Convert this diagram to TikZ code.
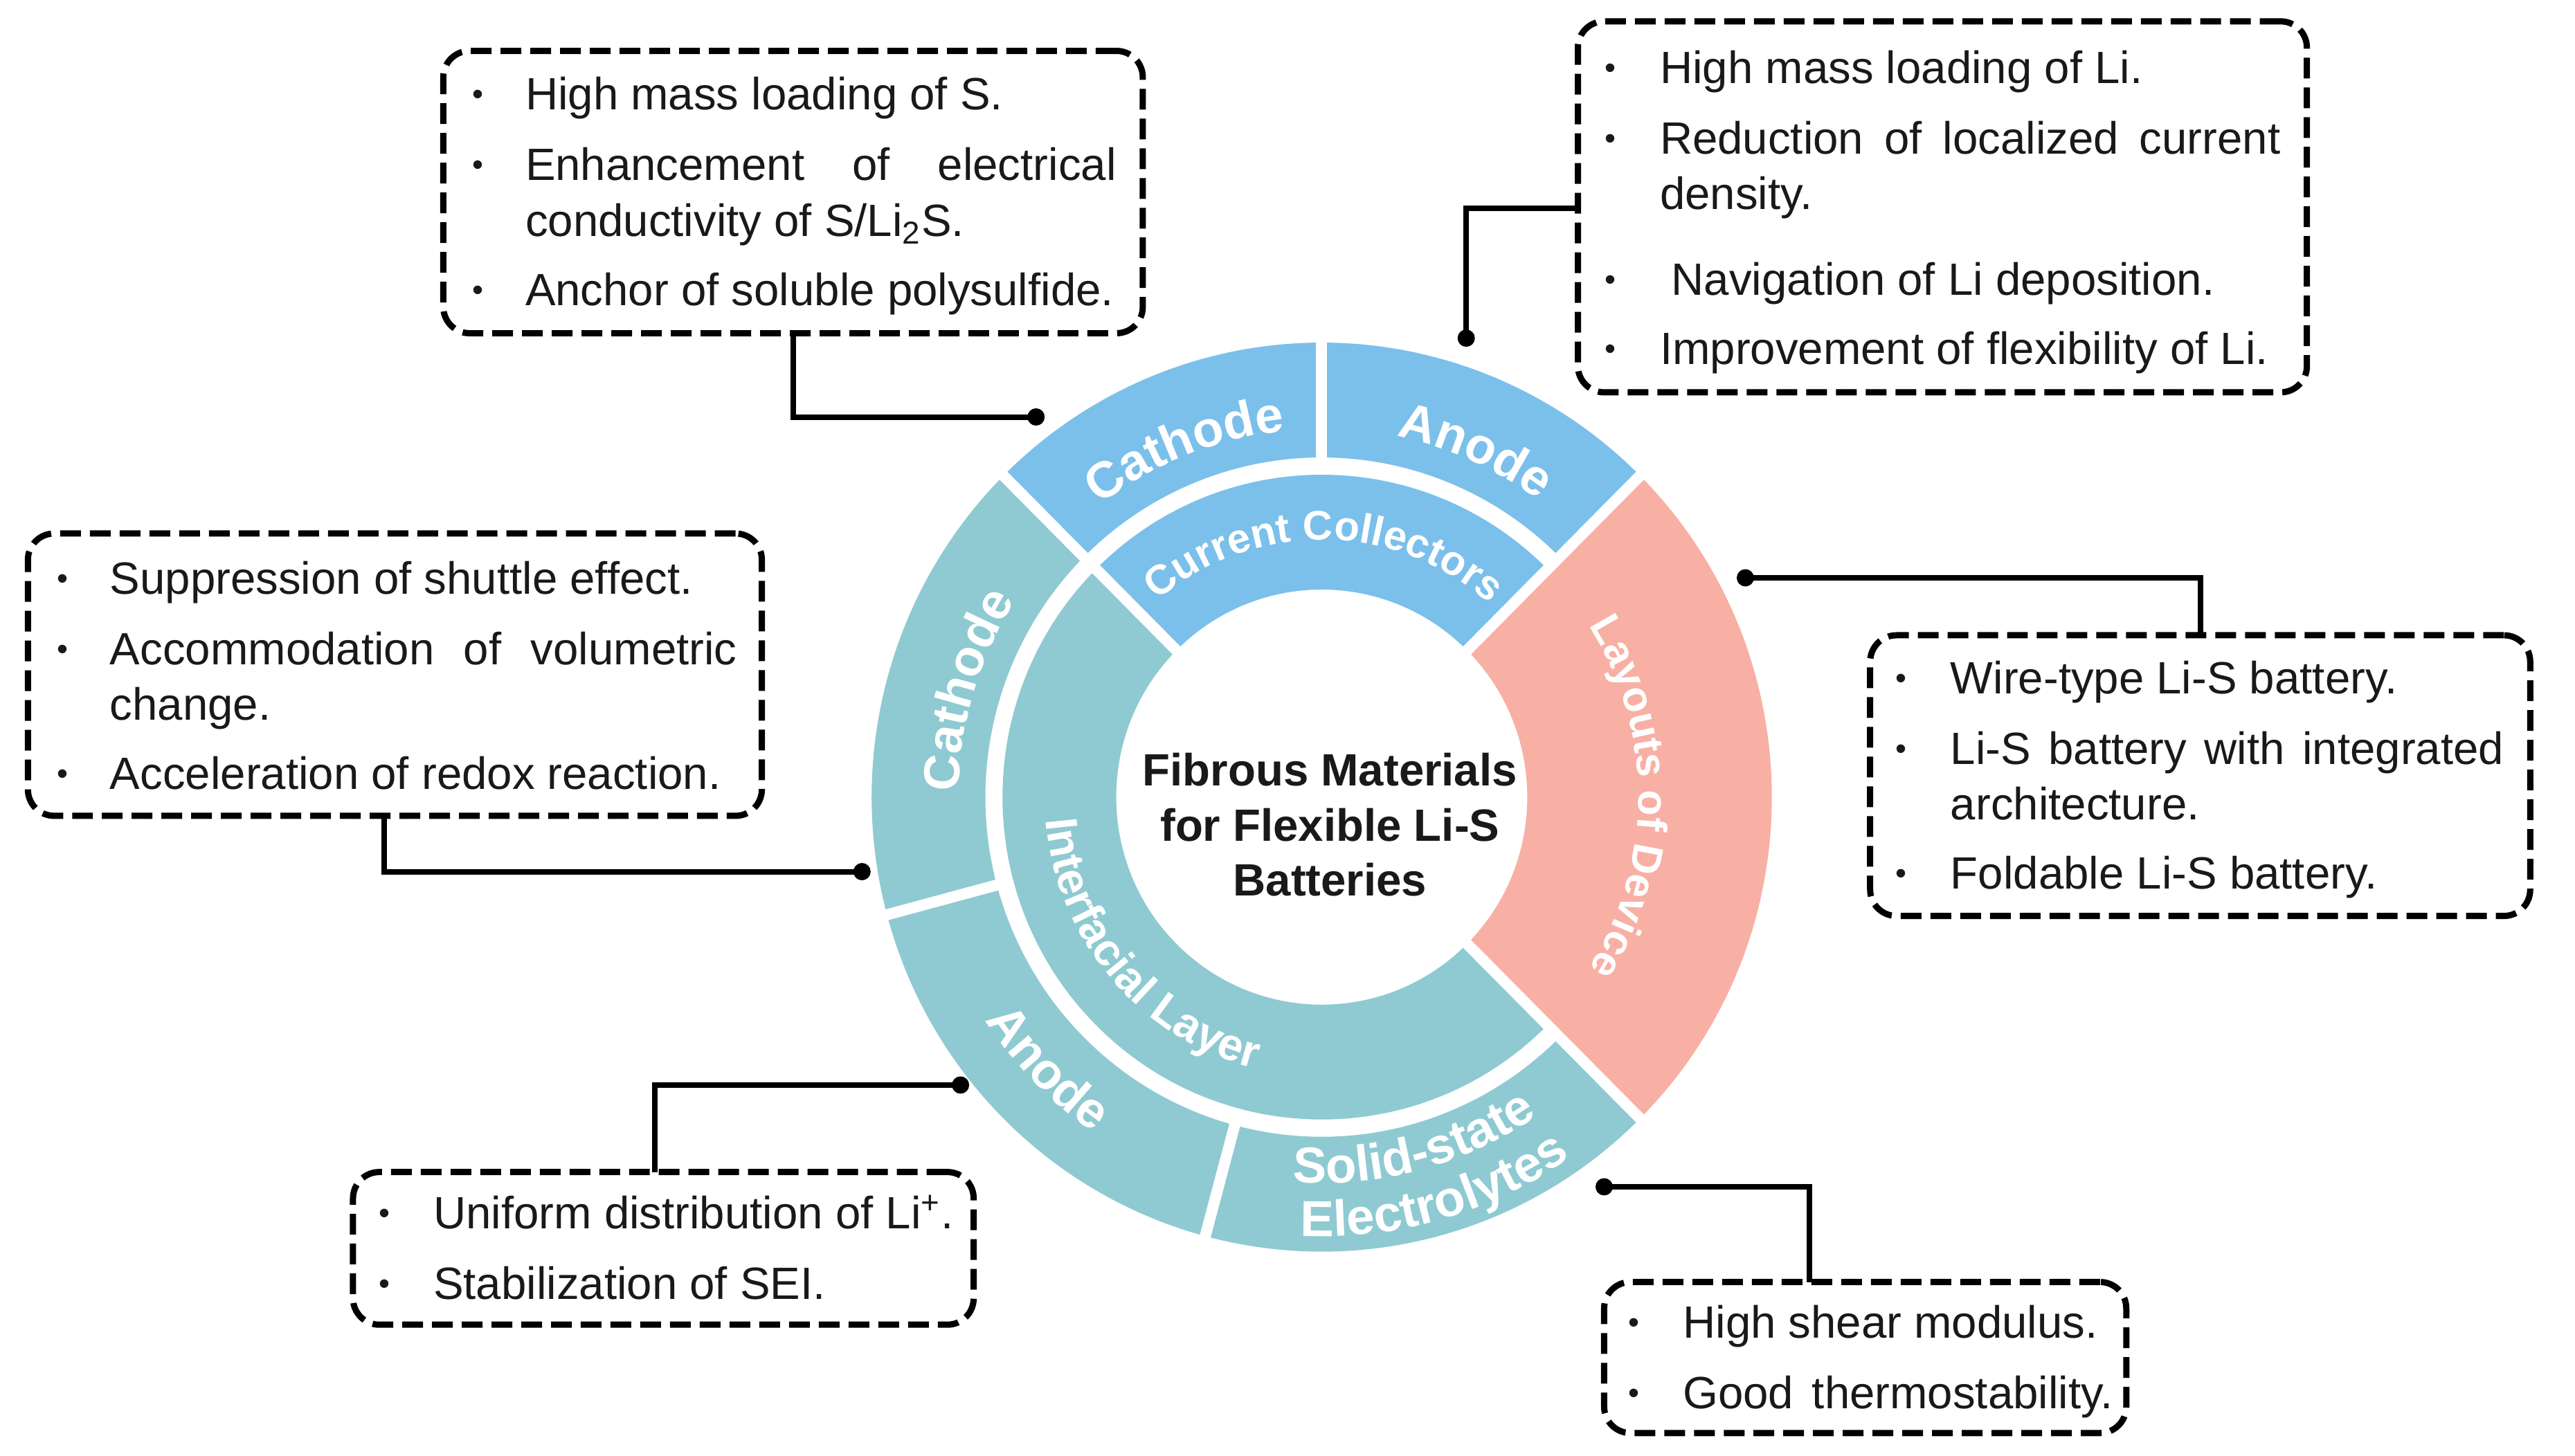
\documentclass[tikz,border=0pt]{standalone}
\usepackage{fontspec}
\setmainfont{Liberation Sans}
\usetikzlibrary{fit,decorations.text}
\definecolor{ringblue}{RGB}{123,192,235}
\definecolor{ringteal}{RGB}{143,202,210}
\definecolor{ringsalmon}{RGB}{248,176,165}
\definecolor{ink}{RGB}{25,25,25}
\newcommand\mainsize{\fontsize{18.6}{22.6}\selectfont}
\newcommand\ringbold{\fontsize{20.8}{24}\selectfont\bfseries\color{white}}
\newcommand\ringinner{\fontsize{17}{21}\selectfont\bfseries\color{white}}
\newcommand\ringmid{\fontsize{17.4}{21}\selectfont\bfseries\color{white}}
\newcommand\ringwide{\fontsize{18.6}{22}\selectfont\bfseries\color{white}}
\tikzset{
  infobox/.style={draw=black,line width=0.09cm,dash pattern=on 0.30cm off 0.13cm,rounded corners=0.38cm,inner sep=0pt,outer sep=0pt},
  itemtext/.style={anchor=base west,inner sep=0pt,outer sep=0pt,text=ink,font=\mainsize},
  bulletmark/.style={anchor=center,inner sep=0pt,outer sep=0pt,text=ink,font=\fontsize{13}{13}\selectfont},
  conn/.style={draw=black,line width=0.08cm},
  dotmark/.style={circle,fill=black,inner sep=0pt,minimum size=0.25cm},
  gapline/.style={draw=white,line width=0.16cm}
}
\newcommand\litem[4]{\node[itemtext] (#1) at (#2,#3+10) {#4};}
\newcommand\jitem[5]{\pgfmathsetlengthmacro\jw{#4*0.6749pt}\node[itemtext] (#1) at (#2,#3+10) {\hbox to \jw{#5}};}
\newcommand\bul[3]{\node[bulletmark] (#1) at (#2,#3+2.5) {•};}
\newcommand\sector[5]{\fill[#1] (#2:#4) arc[start angle=#2,end angle=#3,radius=#4] -- (#3:#5) arc[start angle=#3,end angle=#2,radius=#5] -- cycle;}
\newcommand\cwtext[5]{\path[decorate,decoration={text along path,text align={center},text={|#5|#1}}] (#2+#3:#4) arc[start angle=#2+#3,end angle=#2-#3,radius=#4];}
\newcommand\ccwtext[5]{\path[decorate,decoration={text along path,text align={center},text={|#5|#1}}] (#2-#3:#4) arc[start angle=#2-#3,end angle=#2+#3,radius=#4];}
\begin{document}
\begin{tikzpicture}[x=0.02372cm,y=-0.02372cm]
\useasboundingbox (0,0) rectangle (1568.3,887);
\fill[white] (0,0) rectangle (1568.3,887);
% ring
\begin{scope}[shift={(805,485.6)},x=0.99cm,y=1cm]
  \sector{ringblue}{45}{90}{4.91}{6.57}
  \sector{ringblue}{90}{135}{4.91}{6.57}
  \sector{ringblue}{45}{135}{3.00}{4.66}
  \sector{ringteal}{135}{195}{4.91}{6.57}
  \sector{ringteal}{195}{255}{4.91}{6.57}
  \sector{ringteal}{255}{315}{4.91}{6.57}
  \sector{ringteal}{135}{315}{3.00}{4.66}
  \sector{ringsalmon}{-45}{45}{3.00}{6.57}
  \draw[gapline] (45:2.95) -- (45:6.62);
  \draw[gapline] (135:2.95) -- (135:6.62);
  \draw[gapline] (-45:2.95) -- (-45:6.62);
  \draw[gapline] (90:4.85) -- (90:6.62);
  \draw[gapline] (195:4.85) -- (195:6.62);
  \draw[gapline] (255:4.85) -- (255:6.62);
  \cwtext{Cathode}{111.6}{40}{5.32}{\ringbold}
  \cwtext{Anode}{66}{40}{5.33}{\ringbold}
  \cwtext{Current Collectors}{89.5}{60}{3.72}{\ringinner}
  \cwtext{Layouts of Device}{0}{60}{4.62}{\ringmid}
  \cwtext{Cathode}{163.3}{40}{5.30}{\ringbold}
  \ccwtext{Interfacial Layer}{220.5}{60}{4.04}{\ringwide}
  \ccwtext{Anode}{224.5}{40}{5.88}{\ringbold}
  \ccwtext{Solid-state}{285}{40}{5.58}{\ringbold}
  \ccwtext{Electrolytes}{286}{40}{6.35}{\ringbold}
\end{scope}
\node[anchor=center,inner sep=0pt,align=center,text=ink,font=\mainsize\bfseries] (title) at (810,502.5) {Fibrous Materials\\for Flexible Li-S\\Batteries};
% boxes
\node[infobox,fit={(270,31)(696,203)}] (boxa) {};
\node[infobox,fit={(961,13)(1405,239)}] (boxb) {};
\node[infobox,fit={(17,325)(464,497)}] (boxc) {};
\node[infobox,fit={(1139,387)(1541,558)}] (boxd) {};
\node[infobox,fit={(215,714)(593,807)}] (boxe) {};
\node[infobox,fit={(977,781)(1295,873)}] (boxf) {};
% connectors
\node[dotmark] (dota) at (631,254) {};
\node[dotmark] (dotb) at (893,206) {};
\node[dotmark] (dotc) at (525,531) {};
\node[dotmark] (dotd) at (1063,352) {};
\node[dotmark] (dote) at (585,661) {};
\node[dotmark] (dotf) at (977,723) {};
\draw[conn] (483,0 |- boxa.south) -- (483,0 |- dota.center) -- (dota.center);
\draw[conn] (boxb.west |- 0,127) -- (dotb.center |- 0,127) -- (dotb.center);
\draw[conn] (234,0 |- boxc.south) -- (234,0 |- dotc.center) -- (dotc.center);
\draw[conn] (1340,0 |- boxd.north) -- (1340,0 |- dotd.center) -- (dotd.center);
\draw[conn] (399,0 |- boxe.north) -- (399,0 |- dote.center) -- (dote.center);
\draw[conn] (1102,0 |- boxf.north) -- (1102,0 |- dotf.center) -- (dotf.center);
% box a
\bul{ab1}{291}{57}\litem{at1}{320}{57}{High mass loading of S.}
\bul{ab2}{291}{100}\jitem{at2}{320}{100}{360}{Enhancement\hfill of\hfill electrical}
\litem{at3}{320}{134}{conductivity of S/Li\textsubscript{2}S.}
\bul{ab3}{291}{176}\litem{at4}{320}{176}{Anchor of soluble polysulfide.}
% box b
\bul{bb1}{981}{41}\litem{bt1}{1011}{41}{High mass loading of Li.}
\bul{bb2}{981}{84}\jitem{bt2}{1011}{84}{378}{Reduction\hfill of\hfill localized\hfill current}
\litem{bt3}{1011}{117.5}{density.}
\bul{bb3}{981}{170}\litem{bt4}{1018}{170}{Navigation of Li deposition.}
\bul{bb4}{981}{212}\litem{bt5}{1011}{212}{Improvement of flexibility of Li.}
% box c
\bul{cb1}{38}{352}\litem{ct1}{67}{352}{Suppression of shuttle effect.}
\bul{cb2}{38}{395}\jitem{ct2}{67}{395}{382}{Accommodation\hfill of\hfill volumetric}
\litem{ct3}{67}{428.5}{change.}
\bul{cb3}{38}{471}\litem{ct4}{67}{471}{Acceleration of redox reaction.}
% box d
\bul{db1}{1158}{412.5}\litem{dt1}{1188}{412.5}{Wire-type Li-S battery.}
\bul{db2}{1158}{455.5}\jitem{dt2}{1188}{455.5}{337}{Li-S\hfill battery\hfill with\hfill integrated}
\litem{dt3}{1188}{489.5}{architecture.}
\bul{db3}{1158}{531.5}\litem{dt4}{1188}{531.5}{Foldable Li-S battery.}
% box e
\bul{eb1}{234}{738.5}\litem{et1}{264}{738.5}{Uniform distribution of Li\textsuperscript{+}.}
\bul{eb2}{234}{781.5}\litem{et2}{264}{781.5}{Stabilization of SEI.}
% box f
\bul{fb1}{995}{805}\litem{ft1}{1025}{805}{High shear modulus.}
\bul{fb2}{995}{848}\jitem{ft2}{1025}{848}{262}{Good\hfill thermostability.}
\end{tikzpicture}
\end{document}
